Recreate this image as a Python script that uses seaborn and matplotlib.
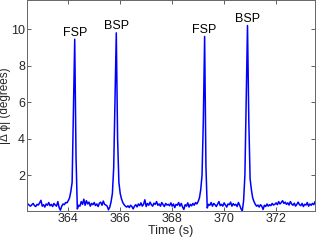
import matplotlib
matplotlib.use("Agg")
import matplotlib.pyplot as plt
import numpy as np
import pandas as pd
import seaborn as sns

# sampled signal, 0.05 s per sample starting at t0
t0 = 362.45
dt = 0.05
dphi = [
    0.42, 0.35, 0.30, 0.38, 0.45, 0.33, 0.28, 0.40, 0.36, 0.48,
    0.62, 0.30, 0.38, 0.25, 0.42, 0.35, 0.50, 0.32, 0.40, 0.28,
    0.45, 0.36, 0.30, 0.55, 0.22, 0.08, 0.30, 0.42, 0.38, 0.50,
    0.48, 0.60, 0.75, 1.10, 1.60, 5.50, 9.45, 3.00, 0.15, 0.35,
    0.30, 0.55, 0.40, 0.68, 0.35, 0.60, 0.42, 0.52, 0.30, 0.45,
    0.38, 0.50, 0.33, 0.42, 0.28, 0.46, 0.52, 0.35, 0.58, 0.40,
    0.36, 0.30, 0.10, 0.25, 0.55, 1.00, 2.40, 6.00, 9.80, 4.00,
    1.60, 1.00, 0.70, 0.50, 0.38, 0.30, 0.25, 0.32, 0.22, 0.35,
    0.28, 0.15, 0.30, 0.38, 0.26, 0.42, 0.33, 0.48, 0.30, 0.40,
    0.65, 0.28, 0.45, 0.35, 0.52, 0.38, 0.30, 0.46, 0.40, 0.55,
    0.35, 0.42, 0.30, 0.50, 0.38, 0.28, 0.45, 0.36, 0.40, 0.32,
    0.48, 0.30, 0.42, 0.22, 0.40, 0.35, 0.50, 0.30, 0.45, 0.26,
    0.12, 0.38, 0.30, 0.48, 0.25, 0.40, 0.32, 0.45, 0.35, 0.50,
    0.42, 0.55, 0.75, 1.20, 2.00, 5.00, 9.60, 2.50, 0.20, 0.40,
    0.35, 0.50, 0.30, 0.45, 0.38, 0.28, 0.42, 0.55, 0.33, 0.40,
    0.30, 0.48, 0.36, 0.25, 0.42, 0.38, 0.52, 0.30, 0.44, 0.35,
    0.40, 0.28, 0.50, 0.35, 0.15, 0.05, 0.60, 2.00, 6.00, 10.20,
    5.00, 1.80, 1.20, 0.75, 0.55, 0.40, 0.30, 0.36, 0.25, 0.38,
    0.30, 0.12, 0.35, 0.28, 0.42, 0.30, 0.38, 0.33, 0.45, 0.36,
    0.40, 0.48, 0.38, 0.55, 0.42, 0.50, 0.60, 0.45, 0.52, 0.40,
    0.48, 0.36, 0.55, 0.42, 0.35, 0.46, 0.30, 0.40, 0.52, 0.38,
    0.33, 0.45, 0.28, 0.40, 0.36, 0.50, 0.30, 0.42, 0.35, 0.45,
    0.38, 0.55,
]
peak_labels = ["FSP", "BSP", "FSP", "BSP"]
peak_times = [364.25, 365.85, 369.25, 370.90]
x_ticks = [364, 366, 368, 370, 372]
y_ticks = [2, 4, 6, 8, 10]

df = pd.DataFrame({"t": t0 + dt * np.arange(len(dphi)), "dphi": dphi})

sns.set_theme(style="white")
plt.rcParams["font.family"] = ["Liberation Sans", "DejaVu Sans"]

fig = plt.figure(figsize=(3.16, 2.40), dpi=100)
ax = fig.add_axes([0.086, 0.122, 0.911, 0.878])

sns.lineplot(data=df, x="t", y="dphi", ax=ax, color="#0000ff", linewidth=1.1)

for lab, pt in zip(peak_labels, peak_times):
    v = df.loc[(df["t"] - pt).abs().idxmin(), "dphi"]
    ax.annotate(lab, (pt, v), xytext=(0, 0.5), textcoords="offset points",
                ha="center", va="bottom", fontsize=9, color="black")

ax.set_xlim(362.42, 373.5)
ax.set_ylim(0.05, 11.6)
ax.set_xticks(x_ticks)
ax.set_yticks(y_ticks)
ax.set_xlabel("Time (s)", fontsize=9, labelpad=0)
ax.set_ylabel("|Δ ϕ| (degrees)", fontsize=8.5, labelpad=0)
ax.tick_params(direction="in", length=3, width=0.6, labelsize=9,
               top=True, right=True, bottom=True, left=True,
               color="#444444", pad=1.5)
for s in ax.spines.values():
    s.set_color("#666666")
    s.set_linewidth(0.7)

fig.savefig("out.png", dpi=100)
